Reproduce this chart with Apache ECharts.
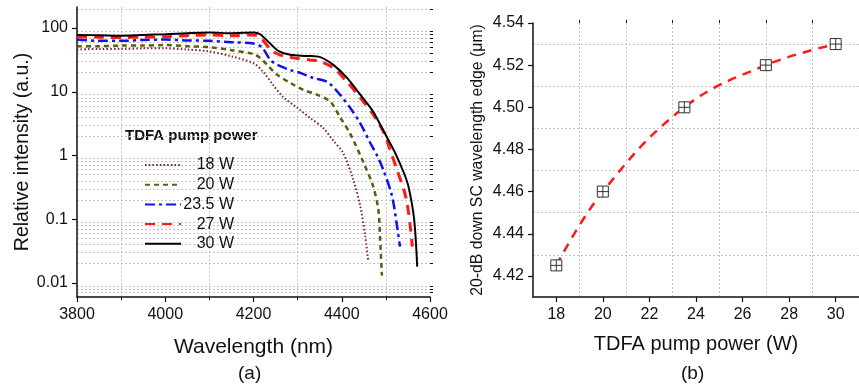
<!DOCTYPE html>
<html>
<head>
<meta charset="utf-8">
<script src="https://cdn.jsdelivr.net/npm/echarts@6/dist/echarts.min.js"></script>
<style>
html,body{margin:0;padding:0;background:#fff;}
#c{width:859px;height:390px;}
</style>
</head>
<body>
<div id="c"></div>
<script>
// ---------- Panel (a): spectra ----------
const seriesNames = ['18 W', '20 W', '23.5 W', '27 W', '30 W'];

const wl18  = [3800, 3850, 3900, 3950, 4000, 4050, 4100, 4150, 4200, 4222, 4244, 4267, 4299, 4328, 4358, 4381, 4403, 4426, 4442, 4453, 4460];
const int18 = [46, 47, 47, 48, 48, 46, 43, 36, 28, 20.5, 12.9, 8.3, 5.6, 3.9, 2.7, 1.7, 1.1, 0.42, 0.16, 0.055, 0.022];

const wl20  = [3800, 3850, 3900, 3950, 4000, 4050, 4100, 4150, 4200, 4215, 4231, 4254, 4283, 4313, 4344, 4374, 4396, 4419, 4449, 4471, 4483, 4487, 4491];
const int20 = [52, 52, 53, 53, 54, 52, 50, 45, 39, 34, 26.4, 18.4, 13.8, 10.7, 9.0, 7.0, 4.0, 2.2, 0.78, 0.33, 0.14, 0.048, 0.013];

const wl235  = [3800, 3850, 3900, 3950, 4000, 4050, 4100, 4150, 4200, 4219, 4238, 4254, 4283, 4306, 4335, 4367, 4396, 4419, 4442, 4464, 4480, 4494, 4514, 4525, 4532];
const int235 = [66, 63, 63, 65, 66, 64, 63, 60, 57, 50, 31.6, 26.4, 22, 19.8, 16.5, 14.3, 9.0, 5.6, 3.2, 1.6, 1.0, 0.6, 0.23, 0.08, 0.037];

const wl27  = [3800, 3850, 3900, 3950, 4000, 4050, 4100, 4150, 4200, 4215, 4240, 4260, 4290, 4328, 4351, 4381, 4412, 4442, 4471, 4494, 4510, 4525, 4540, 4548, 4556, 4560];
const int27 = [73, 72, 71, 72, 73, 76, 78, 76, 78, 72, 45, 38, 34, 31.6, 30, 23.7, 14.3, 8.1, 4.4, 2.4, 1.2, 0.6, 0.3, 0.18, 0.07, 0.037];

const wl30  = [3800, 3850, 3900, 3950, 4000, 4050, 4100, 4150, 4200, 4215, 4240, 4256, 4283, 4322, 4351, 4381, 4412, 4442, 4471, 4490, 4503, 4521, 4540, 4551, 4564, 4571];
const int30 = [78, 77, 76, 78, 80, 83, 85, 83, 85, 80, 55, 44, 38, 36.5, 35, 26.4, 16.5, 9.0, 4.9, 2.8, 1.9, 1.1, 0.55, 0.33, 0.10, 0.018];

const xTicksA = [3800, 4000, 4200, 4400, 4600];
const yTicksA = [0.01, 0.1, 1, 10, 100];

// ---------- Panel (b): edge vs pump power ----------
const pumpPower = [18, 20, 23.5, 27, 30];
const edgeWl    = [4.425, 4.46, 4.50, 4.52, 4.53];
const xTicksB   = [18, 20, 22, 24, 26, 28, 30];
const yTicksB   = [4.42, 4.44, 4.46, 4.48, 4.50, 4.52, 4.54];

// ---------- helpers ----------
const FONT = 'Liberation Sans, Arial, sans-serif';
const LOG_MIN = 0.006, LOG_MAX = 214;
const minorLog = [];
for (let d = -3; d <= 2; d++) for (let k = 2; k <= 9; k++) {
  const v = Math.log10(k) + d;
  if (v > Math.log10(LOG_MIN) && v < Math.log10(LOG_MAX)) minorLog.push(v);
}
const minorXB = [19, 21, 23, 25, 27, 29, 31];
const minorYB = [4.43, 4.45, 4.47, 4.49, 4.51, 4.53];
const pairs = (xs, ys) => xs.map((x, i) => [x, ys[i]]);
const gridLine = {show: true, lineStyle: {color: '#c4c4c4', type: [2, 2], width: 1}};

const styles = [
  {color: '#7a2424', type: [1.5, 2.2], width: 2},
  {color: '#5c5c12', type: [5, 4], width: 2.5},
  {color: '#1010f0', type: [10, 4, 3, 4], width: 2.5},
  {color: '#ff1a1a', type: [10, 7], width: 3},
  {color: '#000000', type: 'solid', width: 2}
];
const dataA = [pairs(wl18, int18), pairs(wl20, int20), pairs(wl235, int235), pairs(wl27, int27), pairs(wl30, int30)];

const chart = echarts.init(document.getElementById('c'), null, {renderer: 'canvas'});

const axisLineStyle = {show: true, onZero: false, lineStyle: {color: '#111', width: 1.5}};
const labelStyle = {color: '#111', fontSize: 16, fontFamily: FONT};

const option = {
  animation: false,
  backgroundColor: '#fff',
  textStyle: {fontFamily: FONT},
  grid: [
    {left: 77, top: 7, width: 353, height: 290, containLabel: false},
    {left: 533, top: 23, width: 334, height: 274, containLabel: false}
  ],
  legend: {
    data: seriesNames,
    orient: 'vertical',
    left: 139, top: 152,
    itemWidth: 36, itemHeight: 14, itemGap: 3.7,
    selectedMode: false,
    itemStyle: {opacity: 0},
    formatter: n => '{n|' + n + '}',
    textStyle: {rich: {n: {width: 48, align: 'right', fontSize: 16, lineHeight: 14, color: '#111', fontFamily: FONT}}}
  },
  xAxis: [
    {
      type: 'value', gridIndex: 0, min: 3800, max: 4600, interval: 200,
      axisLine: axisLineStyle,
      axisTick: {show: true, inside: false, length: 5, lineStyle: {color: '#111', width: 1.2}},
      minorTick: {show: true, splitNumber: 2, length: 3, lineStyle: {color: '#111', width: 1}},
      minorSplitLine: gridLine,
      splitLine: {show: false},
      axisLabel: Object.assign({margin: 10, formatter: v => xTicksA.includes(v) ? String(v) : ''}, labelStyle),
      name: 'Wavelength (nm)', nameLocation: 'middle', nameGap: 40,
      nameTextStyle: {fontSize: 21, color: '#111', fontFamily: FONT}
    },
    {
      type: 'value', gridIndex: 1, min: 17, max: 31,
      axisLine: axisLineStyle,
      axisTick: {show: true, length: 5, customValues: xTicksB, lineStyle: {color: '#111', width: 1.2}},
      axisLabel: Object.assign({margin: 10, customValues: xTicksB}, labelStyle),
      splitLine: {show: false},
      name: 'TDFA pump power (W)', nameLocation: 'middle', nameGap: 37,
      nameTextStyle: {fontSize: 20, color: '#111', fontFamily: FONT}
    },
    {
      type: 'value', gridIndex: 1, min: 17, max: 31,
      axisLine: {show: false},
      axisTick: {show: true, length: 3, customValues: minorXB, lineStyle: {color: '#111', width: 1}},
      axisLabel: {show: false},
      splitLine: gridLine
    }
  ],
  yAxis: [
    {
      type: 'log', logBase: 10, gridIndex: 0, min: LOG_MIN, max: LOG_MAX,
      axisLine: axisLineStyle,
      axisTick: {show: true, length: 5, lineStyle: {color: '#111', width: 1.2}},
      axisLabel: Object.assign({margin: 9, showMinLabel: false, showMaxLabel: false,
        formatter: v => { const r = +(+v).toPrecision(3); return yTicksA.includes(r) ? String(r) : ''; }}, labelStyle),
      splitLine: {show: false},
      name: 'Relative intensity (a.u.)', nameLocation: 'middle', nameGap: 43,
      nameTextStyle: {fontSize: 19.5, color: '#111', fontFamily: FONT}
    },
    {
      type: 'value', gridIndex: 0, min: Math.log10(LOG_MIN), max: Math.log10(LOG_MAX),
      axisLine: {show: false},
      axisTick: {show: true, length: 3, customValues: minorLog, lineStyle: {color: '#111', width: 1}},
      axisLabel: {show: false},
      splitLine: gridLine
    },
    {
      type: 'value', gridIndex: 1, min: 4.41, max: 4.54,
      axisLine: axisLineStyle,
      axisTick: {show: true, length: 5, customValues: yTicksB, lineStyle: {color: '#111', width: 1.2}},
      axisLabel: Object.assign({margin: 9, customValues: yTicksB, formatter: v => (+v).toFixed(2)}, labelStyle),
      splitLine: {show: false},
      name: '20-dB down SC wavelength edge (\u03bcm)', nameLocation: 'middle', nameGap: 47,
      nameTextStyle: {fontSize: 15.8, color: '#111', fontFamily: FONT}
    },
    {
      type: 'value', gridIndex: 1, min: 4.41, max: 4.54,
      axisLine: {show: false},
      axisTick: {show: true, length: 3, customValues: minorYB, lineStyle: {color: '#111', width: 1}},
      axisLabel: {show: false},
      splitLine: gridLine
    }
  ],
  graphic: [
    {type: 'text', left: 125, top: 128, style: {text: 'TDFA pump power', font: 'bold 15px ' + FONT, fill: '#111'}},
    {type: 'text', left: 238, top: 364, style: {text: '(a)', font: '19px ' + FONT, fill: '#111'}},
    {type: 'text', left: 681, top: 364, style: {text: '(b)', font: '19px ' + FONT, fill: '#111'}}
  ],
  series: dataA.map((d, i) => ({
    name: seriesNames[i], type: 'line', xAxisIndex: 0, yAxisIndex: 0,
    data: d, symbol: 'none', smooth: 0.3, z: 3 + i,
    color: styles[i].color,
    lineStyle: {color: styles[i].color, type: styles[i].type, width: styles[i].width}
  })).concat([{
    name: 'edge', type: 'line', xAxisIndex: 1, yAxisIndex: 2,
    data: pairs(pumpPower, edgeWl), smooth: 0.4,
    symbol: 'path://M0,0H10V10H0ZM5,0V10M0,5H10', symbolSize: 11,
    itemStyle: {color: '#fff', borderColor: '#333', borderWidth: 1},
    lineStyle: {color: '#ff1a1a', type: [9, 7], width: 2.5}, z: 5
  }])
};
chart.setOption(option);
</script>
</body>
</html>
